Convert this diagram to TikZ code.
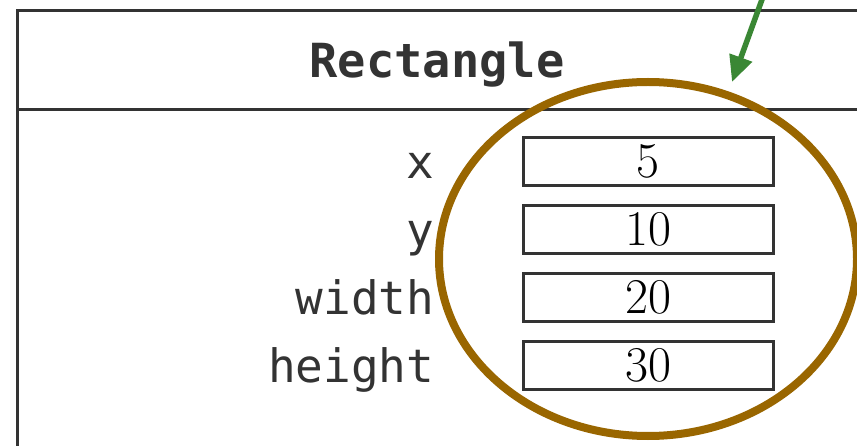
\documentclass[tikz,border=0pt]{standalone}
\usepackage{fontspec}
\setmonofont{DejaVu Sans Mono}
\usetikzlibrary{arrows.meta,positioning,shapes.geometric}
\definecolor{recBrown}{RGB}{153,102,0}
\definecolor{recGreen}{RGB}{58,135,52}
\definecolor{recGray}{RGB}{51,51,51}

\begin{document}
\begin{tikzpicture}[x=1pt, y=-1pt,
  val/.style={draw=recGray, line width=3pt, minimum width=250pt,
              minimum height=48pt, inner sep=0pt, font=\fontsize{50}{50}\selectfont},
  lbl/.style={anchor=base east, inner sep=0pt, text=recGray,
              font=\ttfamily\fontsize{46}{46}\selectfont},
  arr/.style={-{Triangle[length=26pt, width=23pt]}, line width=5.5pt, recGreen}
]
  \useasboundingbox (0,0) rectangle (857,446);

  % class box
  \draw[recGray, line width=3pt] (17,520) |- (920,11);
  \draw[recGray, line width=3pt] (17,110) -- (920,110);
  \node[anchor=base, inner sep=0pt, text=recGray,
        font=\ttfamily\bfseries\fontsize{47}{47}\selectfont] (title) at (437,78) {Rectangle};

  % fields
  \node[val]                   (vx) at (648,161.5) {5};
  \node[val, below=17pt of vx] (vy) {10};
  \node[val, below=17pt of vy] (vw) {20};
  \node[val, below=17pt of vw] (vh) {30};

  \node[lbl] (lx) at ([xshift=-87pt, yshift=-17pt]vx.west) {x};
  \node[lbl] (ly) at ([xshift=-87pt, yshift=-17pt]vy.west) {y};
  \node[lbl] (lw) at ([xshift=-87pt, yshift=-17pt]vw.west) {width};
  \node[lbl] (lh) at ([xshift=-87pt, yshift=-17pt]vh.west) {height};

  % highlight
  \node[draw=recBrown, line width=8pt, ellipse, inner sep=0pt,
        minimum width=418pt, minimum height=354pt] (hl) at (648,259) {};

  \coordinate (src) at (764,-6);
  \coordinate (tip) at (732,82);
  \draw[arr] (src) -- (tip);
\end{tikzpicture}
\end{document}
